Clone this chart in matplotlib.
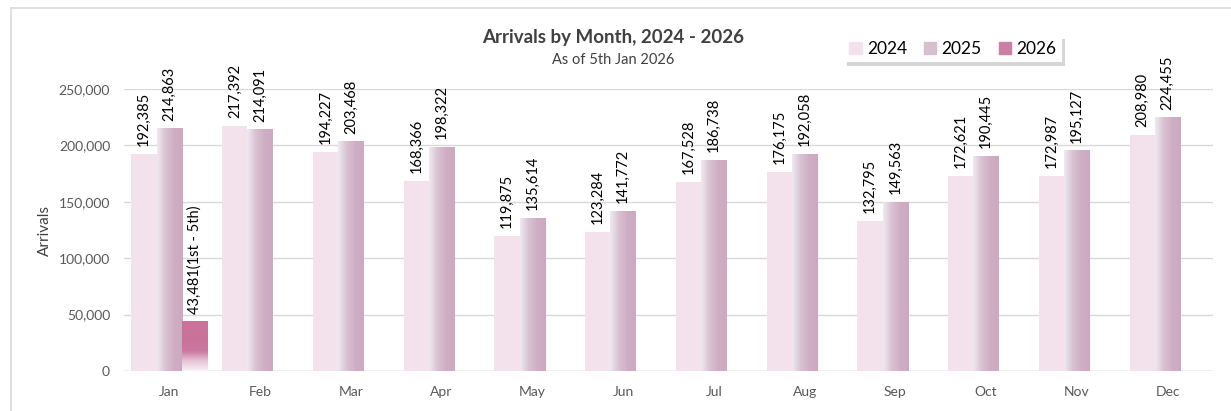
import numpy as np
import matplotlib
matplotlib.use("Agg")
import matplotlib.pyplot as plt
from matplotlib.colors import LinearSegmentedColormap
from matplotlib.patches import Patch
from matplotlib.lines import Line2D

months = ["Jan", "Feb", "Mar", "Apr", "May", "Jun", "Jul", "Aug", "Sep", "Oct", "Nov", "Dec"]
arrivals_2024 = [192385, 217392, 194227, 168366, 119875, 123284, 167528, 176175, 132795, 172621, 172987, 208980]
arrivals_2025 = [214863, 214091, 203468, 198322, 135614, 141772, 186738, 192058, 149563, 190445, 195127, 224455]
arrivals_2026 = [43481]
label_2026 = "(1st - 5th)"

plt.rcParams['font.family'] = ['Lato', 'DejaVu Sans']

W, H = 1231, 411
fig = plt.figure(figsize=(W / 100, H / 100), dpi=100)
ax = fig.add_axes([124 / W, 1 - 371 / H, (1213 - 124) / W, (371 - 89) / H])

x = np.arange(len(months))
bw = 0.279
ymax = 250000

c2024 = "#F3E1EC"
cmap25 = LinearSegmentedColormap.from_list("c25", ["#EEEAF1", "#D9C2D2", "#CFAEC4", "#CCA9C1"])
cmap26 = LinearSegmentedColormap.from_list("c26", ["#F6F1F6", "#E7C3D5", "#CB78A0", "#C9729A"])
grad_h = np.linspace(0, 1, 64).reshape(1, -1)
grad_v = np.linspace(0, 1, 64).reshape(-1, 1)
grad_v = np.clip(grad_v / 0.6, 0, 1)

ax.bar(x - bw, arrivals_2024, bw, color=c2024, zorder=2)
for i, v in enumerate(arrivals_2025):
    ax.imshow(grad_h, cmap=cmap25, aspect='auto', origin='lower',
              extent=(x[i] - bw / 2, x[i] + bw / 2, 0, v), zorder=2)
for i, v in enumerate(arrivals_2026):
    ax.imshow(grad_v, cmap=cmap26, aspect='auto', origin='lower',
              extent=(x[i] + bw / 2, x[i] + 1.5 * bw, 0, v), zorder=2)

lab_kw = dict(rotation=90, ha='center', va='bottom', fontsize=10.5, color='black', clip_on=False)
off = 7000
for i, v in enumerate(arrivals_2024):
    ax.text(x[i] - bw, v + off, f"{v:,}", **lab_kw)
for i, v in enumerate(arrivals_2025):
    ax.text(x[i], v + off, f"{v:,}", **lab_kw)
for i, v in enumerate(arrivals_2026):
    ax.text(x[i] + bw, v + off, f"{v:,}" + label_2026, **lab_kw)

ax.set_xlim(-0.5, len(months) - 0.5)
ax.set_ylim(0, ymax)
ax.set_yticks(range(0, ymax + 1, 50000))
ax.set_yticklabels([f"{t:,}" for t in range(0, ymax + 1, 50000)])
ax.set_xticks(x)
ax.set_xticklabels(months)
ax.tick_params(axis='both', length=0, labelsize=10, labelcolor='#595959')
ax.tick_params(axis='x', pad=11)
ax.tick_params(axis='y', pad=10)
ax.grid(axis='y', color='#D9D9D9', linewidth=1, zorder=0)
ax.set_axisbelow(True)
for s in ax.spines.values():
    s.set_visible(False)
ax.axhline(0, color='#D9D9D9', linewidth=1, zorder=1)
ax.set_ylabel("Arrivals", fontsize=11, color='#404040', labelpad=5)

fig.text(613 / W, 1 - 37 / H, "Arrivals by Month, 2024 - 2026", ha='center', va='center',
         fontsize=13.5, fontweight='bold', color='#404040')
fig.text(613 / W, 1 - 60 / H, "As of 5th Jan 2026", ha='center', va='center',
         fontsize=10.5, color='#404040')

handles = [Patch(color=c2024), Patch(color="#D8BFD0"), Patch(color="#CB7FA4")]
leg = fig.legend(handles, ["2024", "2025", "2026"], loc='center', ncol=3,
                 bbox_to_anchor=(953 / W, 1 - 49 / H), fontsize=12.5, frameon=True,
                 shadow={'color': '#8C8C8C', 'alpha': 0.35, 'ox': 2, 'oy': -2.5},
                 fancybox=False, handlelength=0.7, handleheight=0.7,
                 handletextpad=0.3, columnspacing=1.0, borderpad=0.3)
leg.get_frame().set_edgecolor('white')
leg.get_frame().set_linewidth(0)

fig.add_artist(Line2D([11 / W, 11 / W], [0, 1 - 8 / H], color='#D9D9D9', linewidth=1.2))
fig.add_artist(Line2D([11 / W, 1], [1 - 8 / H, 1 - 8 / H], color='#D9D9D9', linewidth=1.2))

fig.savefig("out.png", dpi=100)
